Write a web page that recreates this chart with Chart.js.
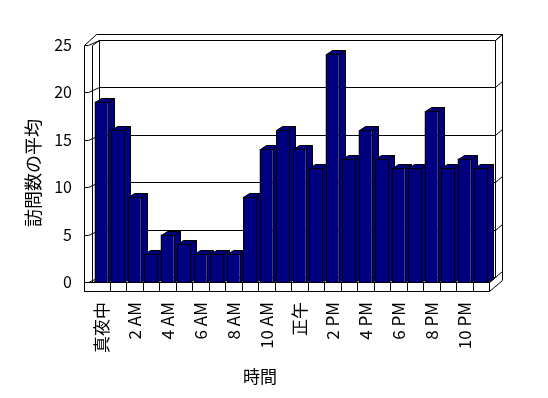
<!DOCTYPE html>
<html>
<head>
<meta charset="utf-8">
<script src="https://cdn.jsdelivr.net/npm/chart.js@4/dist/chart.umd.min.js"></script>
<style>
  html, body { margin: 0; padding: 0; background: #fff; }
  canvas { display: block; }
</style>
</head>
<body>
<canvas id="myChart" width="548" height="398"></canvas>
<script>
// ===== data =====
const hours = [
  '真夜中', '1 AM', '2 AM', '3 AM', '4 AM', '5 AM', '6 AM', '7 AM', '8 AM', '9 AM', '10 AM', '11 AM',
  '正午', '1 PM', '2 PM', '3 PM', '4 PM', '5 PM', '6 PM', '7 PM', '8 PM', '9 PM', '10 PM', '11 PM'
];
const visits = [19, 16, 9, 3, 5, 4, 3, 3, 3, 9, 14, 16, 14, 12, 24, 13, 16, 13, 12, 12, 18, 12, 13, 12];
const yTicks = [0, 5, 10, 15, 20, 25];
const yTitle = '訪問数の平均';
const xTitle = '時間';

const FONT = '"Noto Sans CJK JP", "Noto Sans", sans-serif';
const NAVY = '#000080';

// depth of the fake 3d box
const DX = 6, DY = -5;     // walls
const BDX = 6, BDY = -4;   // bars
const WALL = 9;            // left wall / floor thickness

// snap to pixel centres so the 1px lines stay crisp
const px = v => Math.round(v) + 0.5;

function path(ctx, pts) {
  ctx.beginPath();
  ctx.moveTo(px(pts[0][0]), px(pts[0][1]));
  for (let i = 1; i < pts.length; i++) ctx.lineTo(px(pts[i][0]), px(pts[i][1]));
}
function line(ctx, pts) {
  path(ctx, pts);
  ctx.stroke();
}
function poly(ctx, pts, fill) {
  path(ctx, pts);
  ctx.closePath();
  ctx.fillStyle = fill;
  ctx.fill();
  ctx.stroke();
}

// walls, floor, gridlines and the top/side faces of bars
const box3d = {
  id: 'box3d',
  beforeDatasetsDraw(chart) {
    const ctx = chart.ctx;
    const { left: L, right: R, top: T, bottom: B } = chart.chartArea;
    const ys = chart.scales.y, xs = chart.scales.x;
    ctx.save();
    ctx.strokeStyle = '#000';
    ctx.lineWidth = 1;

    // back wall
    poly(ctx, [[L + DX, T + DY], [R + DX, T + DY], [R + DX, B + DY], [L + DX, B + DY]], '#fff');
    // back wall thickness (top + right)
    line(ctx, [[L - WALL + 12, T + DY - 6], [R + DX + 7, T + DY - 6]]);
    line(ctx, [[R + DX, T + DY], [R + DX + 7, T + DY - 6], [R + DX + 7, B + DY + 3], [R, B + WALL]]);
    // left wall
    line(ctx, [[L - WALL, B + WALL], [L - WALL, T], [L - WALL + 12, T + DY - 6]]);
    line(ctx, [[L - 1, B], [L - 1, T], [L + DX, T + DY]]);

    // gridlines
    yTicks.forEach(v => {
      const yf = ys.getPixelForValue(v);
      const yb = yf + DY;
      line(ctx, [[L - WALL, yf], [L - WALL + 4, yf], [L + DX, yb], [R + DX, yb], [R + DX + 7, yb - 6]]);
    });

    // floor
    poly(ctx, [[L, B], [R, B], [R + DX, B + DY], [L + DX, B + DY]], '#fff');
    poly(ctx, [[L - WALL, B], [R, B], [R, B + WALL], [L - WALL, B + WALL]], '#fff');
    line(ctx, [[R, B], [R + DX, B + DY]]);
    for (let i = 1; i < hours.length; i++) {
      const x = (xs.getPixelForValue(i - 1) + xs.getPixelForValue(i)) / 2;
      line(ctx, [[x, B], [x, B + WALL]]);
    }

    // bar tops and sides, left to right; fronts are drawn by chart.js afterwards
    const meta = chart.getDatasetMeta(0);
    meta.data.forEach(bar => {
      const p = bar.getProps(['x', 'y', 'base', 'width'], true);
      const l = p.x - p.width / 2, r = p.x + p.width / 2;
      poly(ctx, [[l, p.y], [r, p.y], [r + BDX, p.y + BDY], [l + BDX, p.y + BDY]], NAVY);
      poly(ctx, [[r, p.y], [r + BDX, p.y + BDY], [r + BDX, p.base + BDY], [r, p.base]], NAVY);
    });
    ctx.restore();
  },
  afterDatasetsDraw(chart) {
    // crisp outline on the bar fronts
    const ctx = chart.ctx;
    ctx.save();
    ctx.strokeStyle = '#000';
    ctx.lineWidth = 1;
    chart.getDatasetMeta(0).data.forEach(bar => {
      const p = bar.getProps(['x', 'y', 'base', 'width'], true);
      const l = p.x - p.width / 2, r = p.x + p.width / 2;
      line(ctx, [[l, p.base], [l, p.y], [r, p.y], [r, p.base]]);
    });
    ctx.restore();
  },
  afterDraw(chart) {
    const ctx = chart.ctx;
    ctx.save();
    ctx.fillStyle = '#000';
    ctx.textAlign = 'center';
    ctx.textBaseline = 'middle';
    ctx.font = '17px ' + FONT;
    ctx.fillText(xTitle, 260, 377);
    ctx.font = '18px ' + FONT;
    ctx.translate(33, 173);
    ctx.rotate(-Math.PI / 2);
    ctx.fillText(yTitle, 0, 0);
    ctx.restore();
  }
};

new Chart(document.getElementById('myChart'), {
  type: 'bar',
  data: {
    labels: hours,
    datasets: [{
      data: visits,
      backgroundColor: NAVY,
      borderWidth: 0,
      categoryPercentage: 1,
      barPercentage: 0.79
    }]
  },
  options: {
    responsive: false,
    animation: false,
    events: [],
    layout: { padding: { top: 44.5, right: 59, left: 0, bottom: 0 } },
    plugins: { legend: { display: false }, tooltip: { enabled: false } },
    scales: {
      x: {
        grid: { display: false, drawTicks: false },
        border: { display: false },
        afterFit: s => { s.height = 116; },
        ticks: {
          autoSkip: false,
          maxRotation: 90,
          minRotation: 90,
          padding: 20,
          color: '#000',
          font: { family: FONT, size: 17 },
          callback: (v, i) => (i % 2 === 0 ? hours[i] : '')
        }
      },
      y: {
        min: 0,
        max: 25,
        grid: { display: false, drawTicks: false },
        border: { display: false },
        afterFit: s => { s.width = 93; },
        afterBuildTicks: s => { s.ticks = yTicks.map(v => ({ value: v })); },
        ticks: {
          padding: 21,
          color: '#000',
          font: { family: FONT, size: 16 }
        }
      }
    }
  },
  plugins: [box3d]
});
</script>
</body>
</html>
